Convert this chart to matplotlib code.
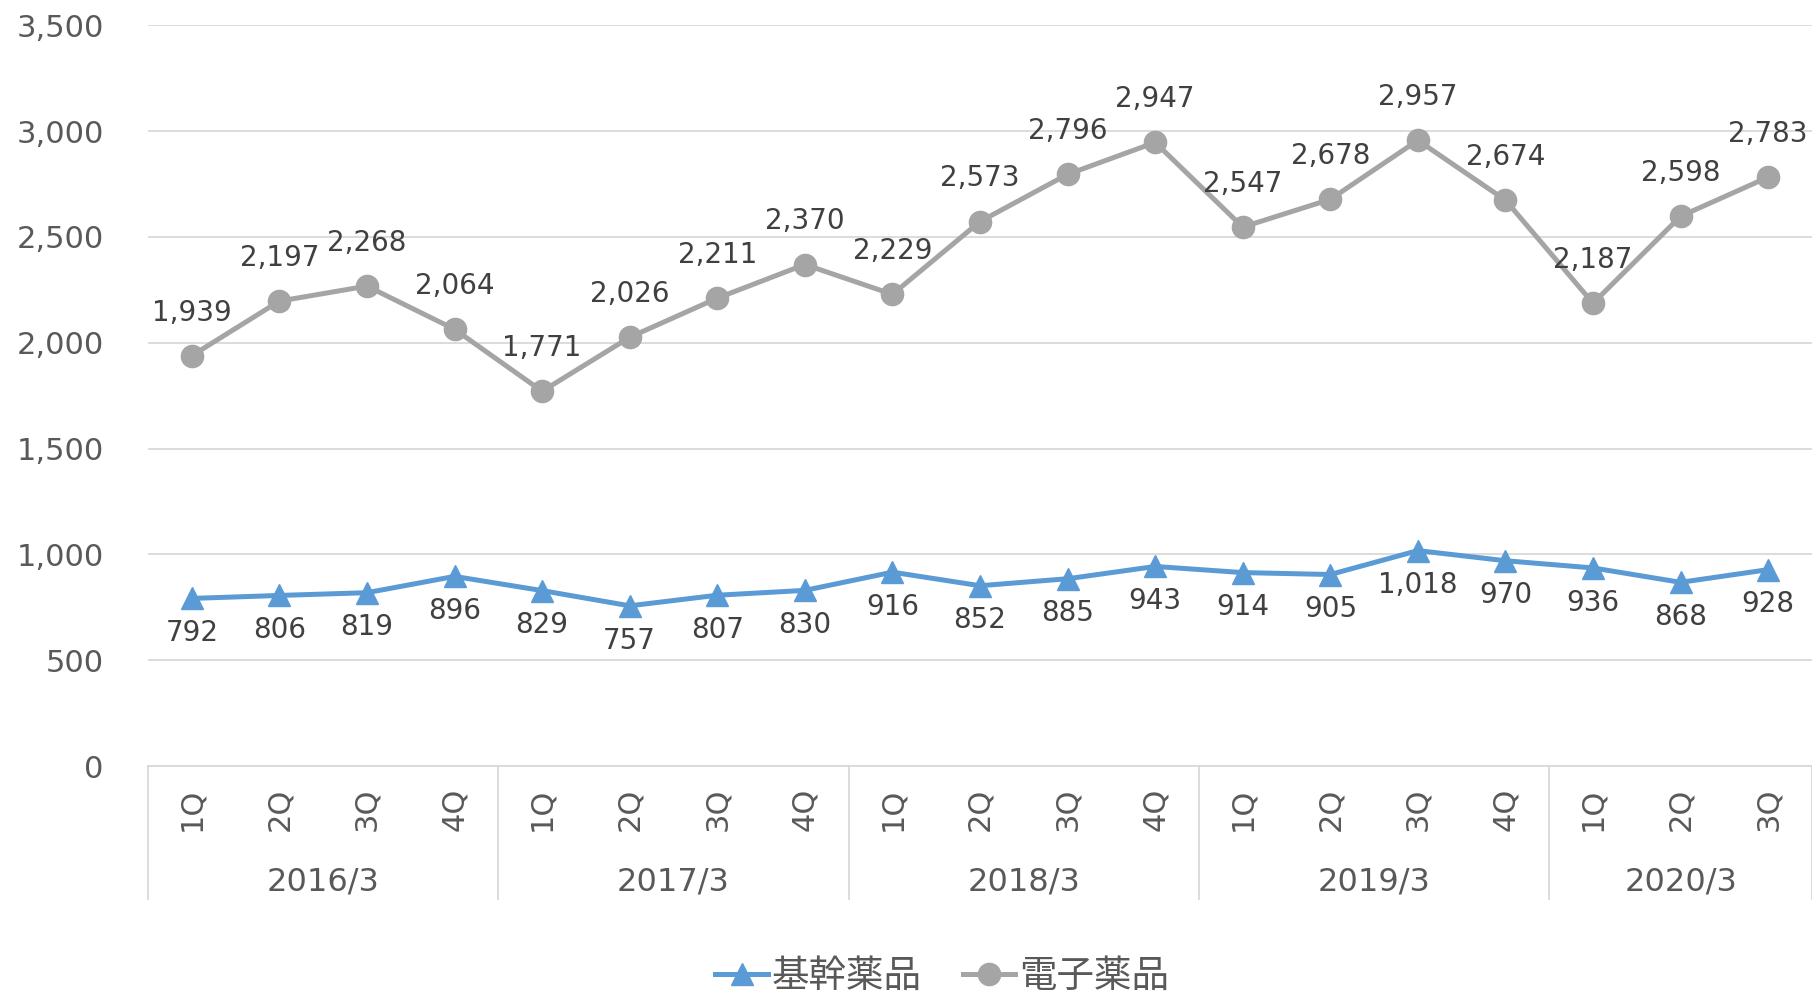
import numpy as np
import matplotlib.pyplot as plt

plt.rcParams['font.family'] = ['DejaVu Sans', 'Noto Sans CJK JP']

years = ['2016/3', '2017/3', '2018/3', '2019/3', '2020/3']
quarters = ['1Q', '2Q', '3Q', '4Q'] * 4 + ['1Q', '2Q', '3Q']
kikan = [792, 806, 819, 896, 829, 757, 807, 830, 916, 852, 885, 943,
         914, 905, 1018, 970, 936, 868, 928]
denshi = [1939, 2197, 2268, 2064, 1771, 2026, 2211, 2370, 2229, 2573, 2796, 2947,
          2547, 2678, 2957, 2674, 2187, 2598, 2783]

blue = '#5B9BD5'
gray = '#A5A5A5'
txt = '#404040'
tick_col = '#595959'
grid_col = '#D9D9D9'

fig = plt.figure(figsize=(18.12, 9.94), dpi=100)
ax = fig.add_axes([148 / 1812, 1 - 766 / 994, 1 - 148 / 1812, (766 - 25.4) / 994])

x = np.arange(len(kikan))
ax.plot(x, kikan, color=blue, lw=3.6, marker='^', ms=16, label='基幹薬品', clip_on=False)
ax.plot(x, denshi, color=gray, lw=3.6, marker='o', ms=16, label='電子薬品', clip_on=False)

for xi, v in zip(x, kikan):
    ax.annotate(f'{v:,}', (xi, v), xytext=(0, -25), textcoords='offset points',
                ha='center', va='center', fontsize=20, color=txt)
for xi, v in zip(x, denshi):
    ax.annotate(f'{v:,}', (xi, v), xytext=(0, 31), textcoords='offset points',
                ha='center', va='center', fontsize=20, color=txt)

ax.set_xlim(-0.5, len(kikan) - 0.5)
ax.set_ylim(0, 3500)
ax.set_yticks(np.arange(0, 3501, 500))
ax.set_yticklabels([f'{t:,}' for t in range(0, 3501, 500)])
ax.yaxis.grid(True, color=grid_col, lw=1.3)
ax.set_axisbelow(True)
for s in ['top', 'right', 'left']:
    ax.spines[s].set_visible(False)
ax.spines['bottom'].set_color(grid_col)
ax.spines['bottom'].set_linewidth(1.3)
ax.tick_params(axis='y', length=0, pad=32, labelsize=22, labelcolor=tick_col)
ax.tick_params(axis='x', length=0)
ax.set_xticks(x)
ax.set_xticklabels([])

# category labels
trans = ax.get_xaxis_transform()
for xi, q in zip(x, quarters):
    ax.text(xi, -0.058, q, rotation=90, ha='center', va='center', fontsize=22,
            color=tick_col, transform=trans)
for i, yr in enumerate(years):
    start = i * 4
    end = min(start + 4, len(kikan))
    ax.text((start + end - 1) / 2, -0.157, yr, ha='center', va='center', fontsize=23,
            color=tick_col, transform=trans)
for b in [-0.5, 3.5, 7.5, 11.5, 15.5, 18.5]:
    ax.plot([b, b], [0, -0.18], color=grid_col, lw=1.3, transform=trans, clip_on=False)

fig.legend(loc='center', bbox_to_anchor=(0.52, 0.017), ncol=2, frameon=False,
           fontsize=27, handlelength=1.4, columnspacing=1.1, handletextpad=0.1,
           labelcolor=tick_col)

fig.savefig('out.png', dpi=100)
